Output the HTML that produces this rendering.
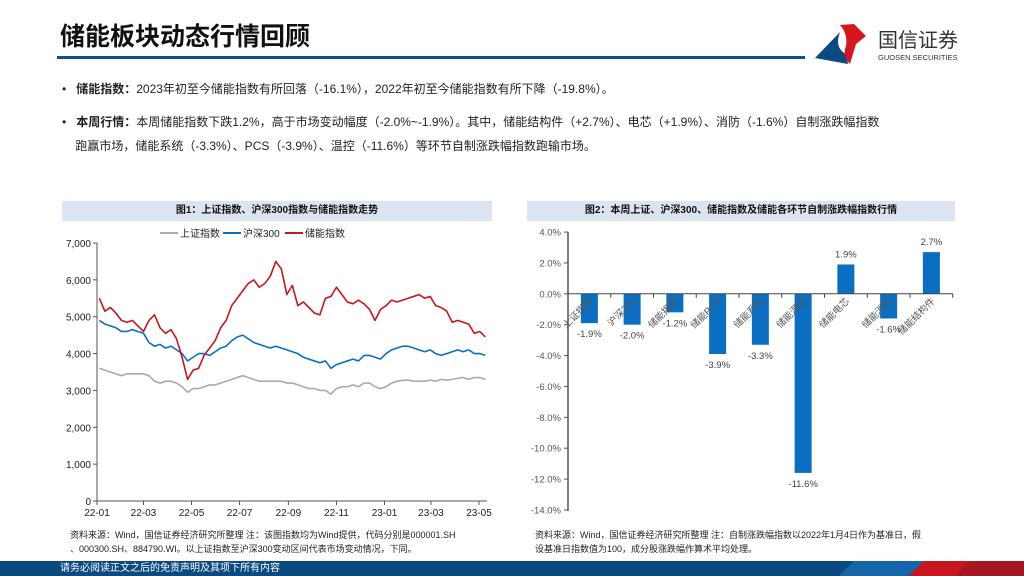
<!DOCTYPE html>
<html><head><meta charset="utf-8">
<style>
body{margin:0;width:1024px;height:576px;overflow:hidden;background:#fff;font-family:"Liberation Sans","Noto Sans CJK SC",sans-serif;position:relative}
.abs{position:absolute}
.title{left:60px;top:22px;font-size:25px;font-weight:bold;color:#111;line-height:30px}
.rule{left:57px;top:56px;width:748px;height:3px;background:#0b4f8c}
.b{font-size:12px;color:#222;left:62px}
.b b{font-weight:bold}
.ct{height:20px;background:#dce4f1;font-size:10px;font-weight:bold;text-align:center;line-height:20px;color:#111}
.note{font-size:9px;color:#222;line-height:14px}
.footer{left:0;top:561px;width:1024px;height:15px;background:#0b4a80;color:#fff;font-size:10px;line-height:15px}
</style></head><body>
<div class="abs title">储能板块动态行情回顾</div>
<div class="abs rule"></div>
<div class="abs" style="left:812px;top:20px">
<svg width="170" height="46" viewBox="0 0 170 46">
<path d="M3 38 L28 12 Q22 28 34 34 L36 44 Z" fill="#0b4a80"/>
<path d="M28 5 L42 4 L54 16 L44 24 L38 44 Q30 36 34 26 Q36 14 28 5Z" fill="#d7151f"/>
<text x="66" y="27" font-size="20" fill="#333" font-family="Liberation Sans,Noto Sans CJK SC,sans-serif">国信证券</text>
<text x="66" y="40" font-size="7.5" fill="#333" font-family="Liberation Sans,sans-serif">GUOSEN SECURITIES</text>
</svg></div>
<div class="abs b" style="top:80px">•&nbsp;&nbsp; <b>储能指数：</b>2023年初至今储能指数有所回落（-16.1%），2022年初至今储能指数有所下降（-19.8%）。</div>
<div class="abs b" style="top:110px;width:900px;line-height:24px">•&nbsp;&nbsp; <b>本周行情：</b>本周储能指数下跌1.2%，高于市场变动幅度（-2.0%~-1.9%）。其中，储能结构件（+2.7%）、电芯（+1.9%）、消防（-1.6%）自制涨跌幅指数<br>&nbsp;&nbsp;&nbsp;&nbsp;跑赢市场，储能系统（-3.3%）、PCS（-3.9%）、温控（-11.6%）等环节自制涨跌幅指数跑输市场。</div>
<div class="abs ct" style="left:62px;top:201px;width:430px">图1：上证指数、沪深300指数与储能指数走势</div>
<div class="abs ct" style="left:527px;top:201px;width:428px">图2：本周上证、沪深300、储能指数及储能各环节自制涨跌幅指数行情</div>
<svg class="abs" style="left:0;top:0" width="1024" height="576" id="charts"></svg>
<div class="abs note" style="left:70px;top:528px;width:430px">资料来源：Wind，国信证券经济研究所整理 注：该图指数均为Wind提供，代码分别是000001.SH<br>、000300.SH、884790.WI。以上证指数至沪深300变动区间代表市场变动情况，下同。</div>
<div class="abs note" style="left:535px;top:528px;width:430px">资料来源：Wind，国信证券经济研究所整理 注：自制涨跌幅指数以2022年1月4日作为基准日，假<br>设基准日指数值为100，成分股涨跌幅作算术平均处理。</div>
<div class="abs footer"><span style="margin-left:60px">请务必阅读正文之后的免责声明及其项下所有内容</span>
<svg class="abs" style="right:0;top:0" width="230" height="15"><polygon points="60,0 130,0 115,15 45,15" fill="#1566a8"/><polygon points="130,0 230,0 230,15 115,15" fill="#c8161e"/><polygon points="175,0 230,0 230,15 160,15" fill="#a31822"/></svg></div>
<script>
const weeks=71;
const shIndex=[3600,3550,3500,3450,3400,3450,3450,3450,3450,3400,3250,3200,3250,3250,3200,3100,2950,3050,3050,3100,3150,3150,3200,3250,3300,3350,3400,3350,3300,3250,3250,3250,3250,3250,3200,3200,3150,3100,3050,3050,3000,3000,2900,3050,3100,3100,3150,3100,3200,3200,3100,3050,3100,3200,3250,3270,3280,3250,3250,3250,3280,3250,3300,3280,3300,3330,3350,3300,3350,3350,3300];
const hs300=[4900,4800,4750,4700,4600,4600,4650,4600,4550,4300,4200,4250,4150,4200,4100,4000,3800,3900,4000,4000,3950,4050,4150,4200,4350,4450,4500,4400,4300,4250,4200,4150,4200,4150,4100,4050,4000,3900,3850,3800,3750,3800,3600,3700,3750,3800,3850,3800,3950,3950,3900,3850,4000,4100,4150,4200,4200,4150,4100,4050,4100,4000,3950,4000,4050,4100,4050,4100,4000,4000,3950];
const storage=[5500,5150,5250,5100,4900,4850,4900,4750,4600,4900,5050,4700,4550,4650,4400,3900,3300,3550,3600,3950,4150,4350,4700,4900,5300,5500,5700,5900,6000,5800,5900,6100,6500,6300,5600,5850,5300,5400,5250,5100,5050,5500,5550,5800,5600,5400,5350,5450,5350,5200,4900,5200,5300,5450,5400,5450,5500,5550,5600,5500,5550,5300,5250,5150,4850,4900,4850,4800,4550,4600,4450];
const yTicks1=[0,1000,2000,3000,4000,5000,6000,7000];
const xTickLabels=["22-01","22-03","22-05","22-07","22-09","22-11","23-01","23-03","23-05"];
const xTickDays=[0,59,120,181,243,304,365,424,485];
const categories=["上证指数","沪深300","储能指数","储能PCS","储能系统","储能温控","储能电芯","储能消防","储能结构件"];
const changes=[-1.9,-2.0,-1.2,-3.9,-3.3,-11.6,1.9,-1.6,2.7];
const yTicks2=[4,2,0,-2,-4,-6,-8,-10,-12,-14];

const svg=document.getElementById('charts');
const NS='http://www.w3.org/2000/svg';
function mk(t,a,txt){const e=document.createElementNS(NS,t);for(const k in a)e.setAttribute(k,a[k]);if(txt!==undefined)e.textContent=txt;svg.appendChild(e);return e;}
const x1=d=>97+d*382/485, y1=v=>501-v*258/7000;
let e=mk('line',{x1:97,y1:243,x2:97,y2:501,stroke:'#555','stroke-width':1});

e=mk('line',{x1:97,y1:501,x2:487,y2:501,stroke:'#555','stroke-width':1});

yTicks1.forEach(v=>{mk('line',{x1:93,x2:97,y1:y1(v),y2:y1(v),stroke:'#555'});
 e=mk('text',{x:91,y:y1(v)+4,'font-size':10,'text-anchor':'end',fill:'#222'},v.toLocaleString('en-US'));
 });
xTickDays.forEach((d,i)=>{mk('line',{x1:x1(d),x2:x1(d),y1:501,y2:505,stroke:'#555'});
 e=mk('text',{x:x1(d),y:516,'font-size':10,'text-anchor':'middle',fill:'#222'},xTickLabels[i]);
 });
[[shIndex,'#aaaaaa','line-shanghai'],[hs300,'#0a6fc2','line-hs300'],[storage,'#c8161e','line-storage']].forEach(([s,c,n])=>{
 const pts=s.map((v,i)=>x1(3+i*7)+','+y1(v)).join(' ');
 e=mk('polyline',{points:pts,fill:'none',stroke:c,'stroke-width':1.6,'stroke-linejoin':'round'});
 });
[['上证指数','#aaaaaa',160],['沪深300','#0a6fc2',223],['储能指数','#c8161e',285]].forEach(([t,c,x])=>{
 mk('line',{x1:x,x2:x+18,y1:233,y2:233,stroke:c,'stroke-width':2});
 e=mk('text',{x:x+20,y:237,'font-size':10,fill:'#222'},t);
 });
const y2=v=>293.8-v*15.44, slot=42.75, cx=i=>568+slot*(i+0.5);
e=mk('line',{x1:568,y1:232,x2:568,y2:511,stroke:'#555','stroke-width':1.5});

yTicks2.forEach(v=>{mk('line',{x1:564,x2:568,y1:y2(v),y2:y2(v),stroke:'#555'});
 e=mk('text',{x:561,y:y2(v)+3.5,'font-size':9.5,'text-anchor':'end',fill:'#555'},v.toFixed(1)+'%');
 });
changes.forEach((v,i)=>{
 const top=Math.min(y2(v),y2(0)),h=Math.abs(y2(v)-y2(0));
 e=mk('rect',{x:cx(i)-8.5,y:top,width:17,height:h,fill:'#0a6fc2'});
 
 e=mk('text',{x:cx(i),y:v<0?y2(v)+14:y2(v)-7,'font-size':9.5,'text-anchor':'middle',fill:'#444'},v.toFixed(1)+'%');
 
});
e=mk('line',{x1:568,y1:y2(0),x2:953,y2:y2(0),stroke:'#444','stroke-width':1});

categories.forEach((c,i)=>{mk('line',{x1:568+slot*(i+1),x2:568+slot*(i+1),y1:y2(0),y2:y2(0)+4,stroke:'#444'});
 const tx=cx(i)+4,ty=y2(0)+8;
 e=mk('text',{x:tx,y:ty,'font-size':9.5,'text-anchor':'end',fill:'#555',transform:`rotate(-45 ${tx} ${ty})`},c);
 });
</script>
</body></html>
